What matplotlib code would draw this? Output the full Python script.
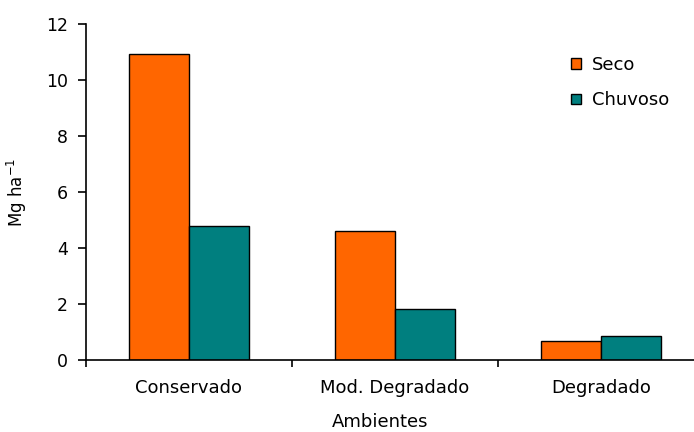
import numpy as np
import matplotlib.pyplot as plt
from matplotlib.patches import Patch

ambientes = ['Conservado', 'Mod. Degradado', 'Degradado']
seco = [10.93, 4.62, 0.69]
chuvoso = [4.79, 1.82, 0.87]

plt.rcParams['font.family'] = ['DejaVu Sans']

fig = plt.figure(figsize=(6.94, 4.32), dpi=100)
# plot area runs a bit past the right edge of the figure
ax = fig.add_axes([86 / 694, 72 / 432, 618 / 694, 336 / 432])

x = np.arange(len(ambientes))
w = 0.29
ax.bar(x - w / 2, seco, w, color='#FF6600', edgecolor='black', linewidth=1, label='Seco')
ax.bar(x + w / 2, chuvoso, w, color='#007F7F', edgecolor='black', linewidth=1, label='Chuvoso')

ax.set_xlim(-0.5, 2.5)
ax.set_ylim(0, 12)
ax.set_yticks(range(0, 13, 2))
ax.set_xticks([-0.5, 0.5, 1.5])
ax.set_xticklabels([])
ax.set_xticks(x, minor=True)
ax.set_xticklabels(ambientes, minor=True)
ax.tick_params(axis='x', which='minor', length=0, pad=14, labelsize=13)
ax.tick_params(axis='x', which='major', length=5, width=1.2, direction='out')
ax.tick_params(axis='y', length=6, width=1.2, direction='out', labelsize=12.5, pad=7)

for s in ['top', 'right']:
    ax.spines[s].set_visible(False)
for s in ['left', 'bottom']:
    ax.spines[s].set_linewidth(1.2)

ax.set_ylabel('Mg ha$^{-1}$', fontsize=12, labelpad=12)
fig.text(380 / 694, 1 / 432, 'Ambientes', ha='center', va='bottom', fontsize=13)

handles = [Patch(facecolor='#FF6600', edgecolor='black'),
           Patch(facecolor='#007F7F', edgecolor='black')]
fig.legend(handles, ['Seco', 'Chuvoso'], loc='upper left', bbox_to_anchor=(555 / 694, 1 - 40 / 432),
           frameon=False, fontsize=13, handlelength=0.55, handleheight=0.55,
           handletextpad=0.6, labelspacing=0.95)

plt.savefig('out.png', dpi=100)
